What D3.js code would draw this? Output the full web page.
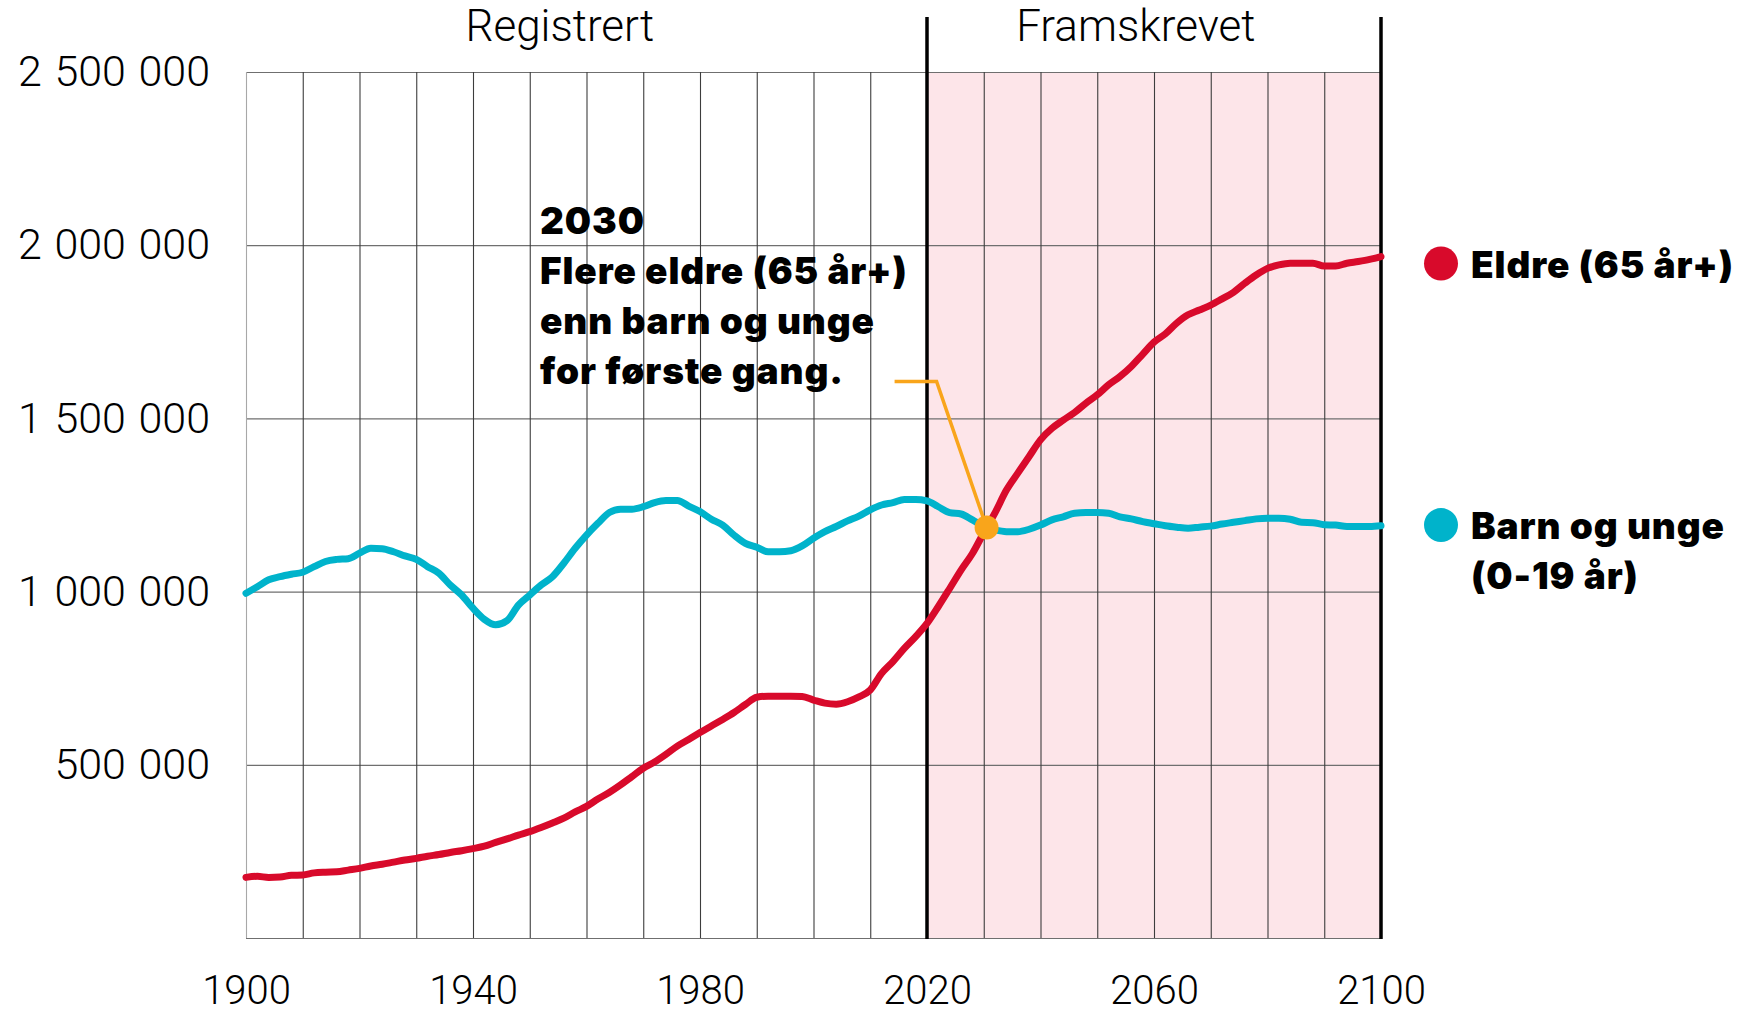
<!DOCTYPE html>
<html>
<head>
<meta charset="utf-8">
<script src="https://cdn.jsdelivr.net/npm/d3@7"></script>
<style>
  body { margin: 0; background: #fff; }
  svg { display: block; }
  .axis text { font-family: Roboto, sans-serif; font-weight: 300; font-size: 40px; fill: #000; }
  .yaxis text { font-size: 43px; word-spacing: 2px; }
  .period { font-family: Roboto, sans-serif; font-weight: 300; font-size: 44px; fill: #000; }
  .bold { font-family: Inter, sans-serif; font-weight: 900; font-size: 37px; fill: #000; letter-spacing: 0.9px; }
</style>
</head>
<body>
<svg id="chart" width="1755" height="1014"></svg>
<script>
// Year steps (every second year)
const years = [
  1900, 1902, 1904, 1906, 1908, 1910, 1912, 1914, 1916, 1918,
  1920, 1922, 1924, 1926, 1928, 1930, 1932, 1934, 1936, 1938,
  1940, 1942, 1944, 1946, 1948, 1950, 1952, 1954, 1956, 1958,
  1960, 1962, 1964, 1966, 1968, 1970, 1972, 1974, 1976, 1978,
  1980, 1982, 1984, 1986, 1988, 1990, 1992, 1994, 1996, 1998,
  2000, 2002, 2004, 2006, 2008, 2010, 2012, 2014, 2016, 2018,
  2020, 2022, 2024, 2026, 2028, 2030, 2032, 2034, 2036, 2038,
  2040, 2042, 2044, 2046, 2048, 2050, 2052, 2054, 2056, 2058,
  2060, 2062, 2064, 2066, 2068, 2070, 2072, 2074, 2076, 2078,
  2080, 2082, 2084, 2086, 2088, 2090, 2092, 2094, 2096, 2098,
  2100
]

// Eldre (65 år+)
const eldre = [
  175000, 178000, 175000, 176000, 181000, 182000, 188000, 190000, 191000, 196000,
  201000, 208000, 213000, 219000, 225000, 230000, 236000, 241000, 247000, 252000,
  258000, 265000, 276000, 286000, 297000, 307000, 319000, 332000, 346000, 364000,
  380000, 401000, 420000, 442000, 466000, 490000, 508000, 530000, 554000, 573000,
  593000, 612000, 631000, 651000, 674000, 695000, 698000, 698000, 698000, 697000,
  687000, 678000, 675000, 682000, 696000, 716000, 764000, 798000, 836000, 870000,
  908000, 957000, 1009000, 1062000, 1110000, 1170000, 1228000, 1293000, 1342000, 1390000,
  1438000, 1471000, 1495000, 1517000, 1544000, 1568000, 1597000, 1621000, 1650000, 1685000,
  1720000, 1744000, 1775000, 1799000, 1813000, 1827000, 1845000, 1864000, 1890000, 1914000,
  1933000, 1943000, 1948000, 1948000, 1948000, 1940000, 1940000, 1948000, 1953000, 1959000,
  1967000
]

// Barn og unge (0-19 år)
const barn = [
  995000, 1014000, 1034000, 1043000, 1050000, 1056000, 1072000, 1087000, 1093000, 1095000,
  1111000, 1125000, 1124000, 1115000, 1103000, 1093000, 1072000, 1053000, 1019000, 990000,
  952000, 920000, 904000, 916000, 961000, 990000, 1019000, 1043000, 1082000, 1125000,
  1163000, 1197000, 1228000, 1238000, 1238000, 1245000, 1257000, 1263000, 1263000, 1247000,
  1231000, 1209000, 1192000, 1163000, 1139000, 1128000, 1115000, 1115000, 1118000, 1132000,
  1154000, 1173000, 1188000, 1204000, 1218000, 1236000, 1250000, 1257000, 1266000, 1266000,
  1262000, 1245000, 1228000, 1224000, 1207000, 1188000, 1178000, 1173000, 1173000, 1180000,
  1192000, 1207000, 1216000, 1226000, 1228000, 1228000, 1226000, 1216000, 1210000, 1202000,
  1196000, 1190000, 1186000, 1183000, 1186000, 1189000, 1195000, 1200000, 1205000, 1210000,
  1212000, 1212000, 1209000, 1200000, 1199000, 1193000, 1192000, 1188000, 1188000, 1188000,
  1190000
]

const yTicks = [500000, 1000000, 1500000, 2000000, 2500000]
const yGrid = [0, 500000, 1000000, 1500000, 2000000, 2500000]
const xTicks = [1900, 1940, 1980, 2020, 2060, 2100]
const xGrid = d3.range(1900, 2101, 10)
const projectionStart = 2020
const lastYear = 2100
const crossYear = 2030.5
const crossValue = 1185000
const annotation = ['2030', 'Flere eldre (65 år+)', 'enn barn og unge', 'for første gang.']

const red = '#d80a2b'
const cyan = '#00b3cb'
const orange = '#f9a51b'

let svg = d3.select('#chart')
let margin = { top: 72, right: 374, bottom: 76, left: 246 }
let w = +svg.attr('width') - margin.left - margin.right
let h = +svg.attr('height') - margin.top - margin.bottom

let x = d3.scaleLinear().domain([1900, 2100]).range([0, w])
let y = d3.scaleLinear().domain([0, 2500000]).range([h, 0])

let nb = d3.formatLocale({ decimal: ',', thousands: ' ', grouping: [3], currency: ['', ''] })

let g = svg.append('g')
  .attr('transform', 'translate(' + margin.left + ',' + margin.top + ')')

// projected period background
g.append('rect')
  .attr('x', x(projectionStart))
  .attr('y', 0)
  .attr('width', x(lastYear) - x(projectionStart))
  .attr('height', h)
  .attr('fill', '#fde5e9')

// horizontal grid
g.append('g')
  .call(d3.axisLeft(y).tickValues(yGrid).tickSize(-w).tickFormat(''))
  .call(a => a.select('.domain').remove())
  .call(a => a.selectAll('line').attr('stroke', '#6f6f6f').attr('stroke-width', 1.2))

// vertical grid
g.append('g')
  .attr('transform', 'translate(0,' + h + ')')
  .call(d3.axisBottom(x).tickValues(xGrid).tickSize(-h).tickFormat(''))
  .call(a => a.select('.domain').remove())
  .call(a => a.selectAll('line')
    .attr('stroke', d => d === 1900 ? '#a8a8a8' : '#3d3d3d')
    .attr('stroke-width', 1.1))

// y labels
g.append('g')
  .attr('class', 'axis yaxis')
  .call(d3.axisLeft(y).tickValues(yTicks).tickSize(0).tickPadding(36).tickFormat(nb.format(',')))
  .call(a => a.select('.domain').remove())

// x labels
g.append('g')
  .attr('class', 'axis')
  .attr('transform', 'translate(0,' + h + ')')
  .call(d3.axisBottom(x).tickValues(xTicks).tickSize(0).tickPadding(38).tickFormat(d3.format('d')))
  .call(a => a.select('.domain').remove())

// period dividers
g.selectAll('.divider')
  .data([projectionStart, lastYear])
  .enter().append('line')
  .attr('class', 'divider')
  .attr('x1', d => x(d))
  .attr('x2', d => x(d))
  .attr('y1', -55)
  .attr('y2', h + 1)
  .attr('stroke', '#000')
  .attr('stroke-width', 3.5)

g.append('text').attr('class', 'period')
  .attr('x', x(1955.3)).attr('y', -31)
  .attr('text-anchor', 'middle')
  .text('Registrert')

g.append('text').attr('class', 'period')
  .attr('x', x(2056.8)).attr('y', -31)
  .attr('text-anchor', 'middle')
  .text('Framskrevet')

// series
let line = d3.line()
  .x((d, i) => x(years[i]))
  .y(d => y(d))
  .curve(d3.curveMonotoneX)

let series = [
  { name: 'Barn og unge', values: barn, color: cyan },
  { name: 'Eldre', values: eldre, color: red }
]

g.selectAll('.series')
  .data(series)
  .enter().append('path')
  .attr('class', 'series')
  .attr('d', d => line(d.values))
  .attr('fill', 'none')
  .attr('stroke', d => d.color)
  .attr('stroke-width', 7)
  .attr('stroke-linejoin', 'round')
  .attr('stroke-linecap', 'round')

// annotation
let cx = x(crossYear)
let cy = y(crossValue)
g.append('path')
  .attr('d', 'M' + (cx - 92) + ',' + (cy - 146) + 'H' + (cx - 50) + 'L' + cx + ',' + cy)
  .attr('fill', 'none')
  .attr('stroke', orange)
  .attr('stroke-width', 3.5)

g.append('circle')
  .attr('cx', cx).attr('cy', cy).attr('r', 12)
  .attr('fill', orange)

g.append('text').attr('class', 'bold')
  .attr('x', 294).attr('y', 162)
  .selectAll('tspan')
  .data(annotation)
  .enter().append('tspan')
  .attr('x', 294)
  .attr('dy', (d, i) => i === 0 ? 0 : 50)
  .text(d => d)

// legend
let legend = [
  { lines: ['Eldre (65 år+)'], color: red, value: eldre[eldre.length - 1] - 20000 },
  { lines: ['Barn og unge', '(0-19 år)'], color: cyan, value: barn[barn.length - 1] + 2000 }
]

let lg = g.selectAll('.legend')
  .data(legend)
  .enter().append('g')
  .attr('class', 'legend')
  .attr('transform', d => 'translate(' + (w + 60) + ',' + y(d.value) + ')')

lg.append('circle')
  .attr('r', 17)
  .attr('fill', d => d.color)

lg.append('text').attr('class', 'bold')
  .attr('y', 14)
  .selectAll('tspan')
  .data(d => d.lines)
  .enter().append('tspan')
  .attr('x', 30)
  .attr('dy', (d, i) => i === 0 ? 0 : 50)
  .text(d => d)
</script>
</body>
</html>
